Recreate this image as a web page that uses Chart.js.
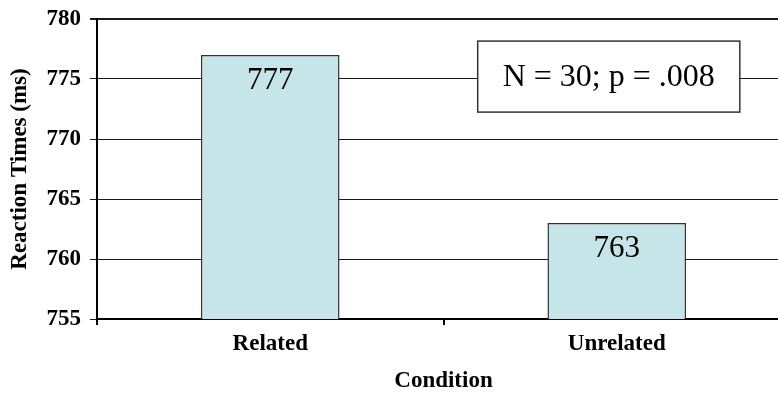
<!DOCTYPE html>
<html>
<head>
<meta charset="utf-8">
<script src="https://cdn.jsdelivr.net/npm/chart.js@4/dist/chart.umd.min.js"></script>
<style>
  html, body { margin: 0; padding: 0; background: #fff; overflow: hidden; }
  #wrap { width: 778px; height: 393px; overflow: hidden; }
  canvas { display: block; }
</style>
</head>
<body>
<div id="wrap"><canvas id="chart" width="790" height="393"></canvas></div>
<script>
const categories = ["Related", "Unrelated"];
const reactionTimes = [777, 763];
const yTicks = [755, 760, 765, 770, 775, 780];
const noteText = "N = 30; p = .008";
const yTitle = "Reaction Times (ms)";
const xTitle = "Condition";

const serif = "'Liberation Serif', 'Times New Roman', serif";

// value labels just under the top of each bar
const valueLabels = {
  id: "valueLabels",
  afterDatasetsDraw(chart) {
    const ctx = chart.ctx;
    const meta = chart.getDatasetMeta(0);
    ctx.save();
    ctx.font = "31px " + serif;
    ctx.fillStyle = "#000";
    ctx.textAlign = "center";
    ctx.textBaseline = "middle";
    meta.data.forEach((bar, i) => {
      ctx.fillText(String(reactionTimes[i]), bar.x, bar.y + 26);
    });
    ctx.restore();
  }
};

// boxed note in the upper right
const noteBox = {
  id: "noteBox",
  afterDatasetsDraw(chart) {
    const ctx = chart.ctx;
    const xs = chart.scales.x;
    const ys = chart.scales.y;
    const cx = xs.getPixelForValue(1) - 8;
    const cy = ys.getPixelForValue(775.2);
    ctx.save();
    ctx.font = "32px " + serif;
    const w = ctx.measureText(noteText).width + 50;
    const h = 71;
    ctx.fillStyle = "#fff";
    ctx.fillRect(cx - w / 2, cy - h / 2, w, h);
    ctx.strokeStyle = "#333";
    ctx.lineWidth = 1.5;
    ctx.strokeRect(cx - w / 2, cy - h / 2, w, h);
    ctx.fillStyle = "#000";
    ctx.textAlign = "center";
    ctx.textBaseline = "middle";
    ctx.fillText(noteText, cx, cy + 1);
    ctx.restore();
  }
};

new Chart(document.getElementById("chart").getContext("2d"), {
  type: "bar",
  data: {
    labels: categories,
    datasets: [{
      data: reactionTimes,
      backgroundColor: "#C6E5E8",
      borderColor: "#333",
      borderWidth: 1.5,
      borderSkipped: false,
      categoryPercentage: 1,
      barPercentage: 0.4
    }]
  },
  options: {
    responsive: false,
    devicePixelRatio: 1,
    animation: false,
    events: [],
    layout: { padding: { top: 19, right: 0, bottom: 0, left: 0 } },
    plugins: {
      legend: { display: false },
      title: { display: false },
      tooltip: { enabled: false }
    },
    scales: {
      x: {
        grid: {
          display: true,
          drawOnChartArea: false,
          drawTicks: true,
          tickLength: 6,
          color: "#000",
          lineWidth: 2
        },
        border: { display: true, color: "#000", width: 2 },
        ticks: {
          color: "#000",
          padding: 8,
          font: { family: serif, size: 23, weight: "bold", lineHeight: 1 }
        },
        title: {
          display: true,
          text: xTitle,
          color: "#000",
          padding: { top: 0, bottom: 0 },
          font: { family: serif, size: 23, weight: "bold", lineHeight: 1 }
        },
        afterFit(scale) {
          scale.height = 74;
          scale.paddingLeft = 0;
          scale.paddingRight = 0;
        }
      },
      y: {
        min: yTicks[0],
        max: yTicks[yTicks.length - 1],
        afterBuildTicks(scale) {
          scale.ticks = yTicks.map(v => ({ value: v }));
        },
        grid: {
          color: "#1a1a1a",
          lineWidth: c => (c.tick && c.tick.value === yTicks[yTicks.length - 1]) ? 2 : 1,
          drawTicks: true,
          tickLength: 7
        },
        border: { display: true, color: "#000", width: 2 },
        ticks: {
          color: "#000",
          padding: 9,
          font: { family: serif, size: 23, weight: "bold" }
        },
        title: {
          display: true,
          text: yTitle,
          color: "#000",
          padding: { top: 6, bottom: 0 },
          font: { family: serif, size: 23, weight: "bold" }
        },
        afterFit(scale) {
          scale.width = 97;
          scale.paddingTop = 0;
          scale.paddingBottom = 0;
        }
      }
    }
  },
  plugins: [valueLabels, noteBox]
});
</script>
</body>
</html>
